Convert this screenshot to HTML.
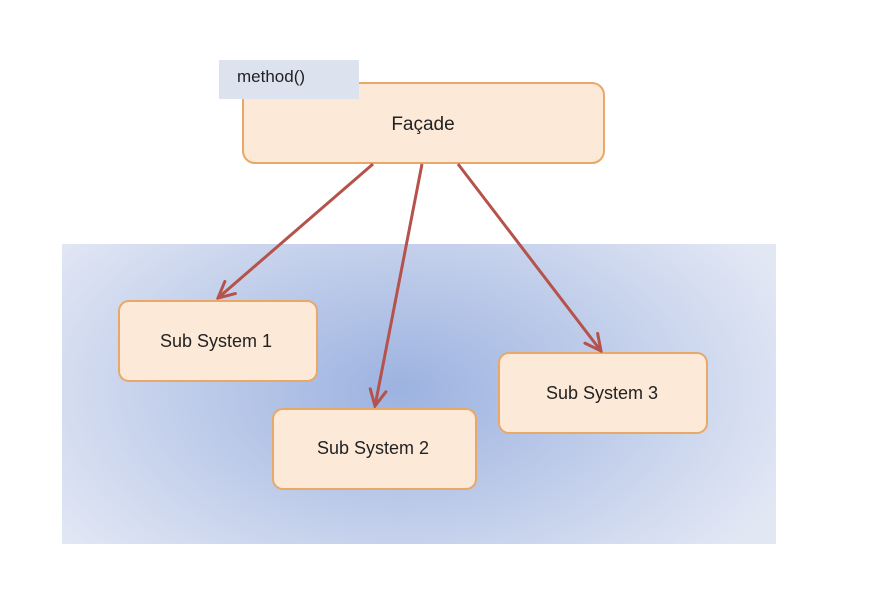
<!DOCTYPE html>
<html><head><meta charset="utf-8"><style>
html,body{margin:0;padding:0;background:#fff;width:872px;height:602px;overflow:hidden}
text{font-family:"Liberation Sans",sans-serif;fill:#222}
</style></head><body>
<svg width="872" height="602" viewBox="0 0 872 602" xmlns="http://www.w3.org/2000/svg">
<defs>
<radialGradient id="g" cx="400" cy="390" r="420" gradientUnits="userSpaceOnUse" gradientTransform="translate(400 390) scale(1 0.6) translate(-400 -390)">
<stop offset="0" stop-color="#9cb2e0"/>
<stop offset="1" stop-color="#e2e7f4"/>
</radialGradient>
<marker id="a" viewBox="0 0 20 20" refX="18" refY="10" markerWidth="20" markerHeight="20" markerUnits="userSpaceOnUse" orient="auto">
<path d="M2,2 L18,10 L2,18" fill="none" stroke="#b5524c" stroke-width="3" stroke-linecap="round"/>
</marker>
</defs>
<rect x="62" y="244" width="714" height="300" fill="url(#g)"/>
<rect x="243" y="83" width="361" height="80" rx="12" fill="#fde9d8" stroke="#e8a867" stroke-width="2"/>
<rect x="219" y="60" width="140" height="39" fill="#dce3ee"/>
<text x="237" y="82" font-size="17">method()</text>
<text x="423" y="130" font-size="19" text-anchor="middle">Façade</text>
<rect x="119" y="301" width="198" height="80" rx="10" fill="#fde9d8" stroke="#e8a867" stroke-width="2"/>
<text x="216" y="347" font-size="18" text-anchor="middle">Sub System 1</text>
<rect x="273" y="409" width="203" height="80" rx="10" fill="#fde9d8" stroke="#e8a867" stroke-width="2"/>
<text x="373" y="454" font-size="18" text-anchor="middle">Sub System 2</text>
<rect x="499" y="353" width="208" height="80" rx="10" fill="#fde9d8" stroke="#e8a867" stroke-width="2"/>
<text x="602" y="399" font-size="18" text-anchor="middle">Sub System 3</text>
<g stroke="#b5524c" stroke-width="3" fill="none" marker-end="url(#a)">
<line x1="373" y1="164" x2="218" y2="298"/>
<line x1="422" y1="164" x2="375" y2="406"/>
<line x1="458" y1="164" x2="601" y2="351"/>
</g>
</svg>
</body></html>
